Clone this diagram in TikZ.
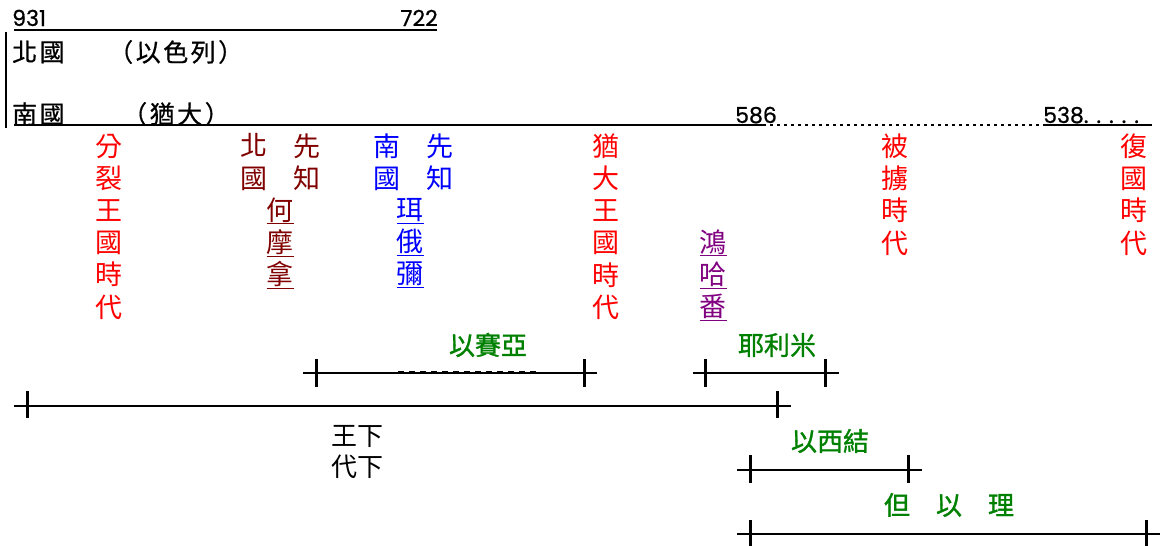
\documentclass[tikz,border=0pt]{standalone}
\usepackage{fontspec}
\setmainfont{Noto Sans CJK TC}
\newfontfamily\numfont[FakeBold=0.8]{Poppins}
\newfontfamily\widecjk[LetterSpace=10,FakeBold=0.6]{Noto Sans CJK TC}
\newfontfamily\semicjk[FakeBold=1.2]{Noto Sans CJK TC}
\definecolor{kred}{HTML}{FF0000}
\definecolor{kdred}{HTML}{800000}
\definecolor{kblue}{HTML}{0000FF}
\definecolor{kpurple}{HTML}{800080}
\definecolor{kgreen}{HTML}{008000}
\newcommand\ulc[1]{\underline{#1}}
\tikzset{
  vcol/.style={align=center, inner sep=0pt, font=\fontsize{27}{32.2}\selectfont},
  num/.style={inner sep=0pt, font=\numfont\fontsize{22}{26}\selectfont},
  hlab/.style={inner sep=0pt, anchor=west, font=\widecjk\fontsize{25}{28}\selectfont},
  glab/.style={inner sep=0pt, text=kgreen, font=\semicjk\fontsize{26}{31}\selectfont},
  bar/.style={line width=2pt},
  tickmark/.style={line width=3pt},
}
\begin{document}
\begin{tikzpicture}[x=1pt,y=-1pt]
\useasboundingbox (0,0) rectangle (1160,546);
% top timeline
\node[num, anchor=base west] (n931) at (12,26) {931};
\node[num, anchor=base east] (n722) at (438,26) {722};
\coordinate (t1) at (14,30);
\coordinate (t2) at (437,30);
\draw[bar] (t1) -- (t2);
\coordinate (v1) at (6,32);
\coordinate (v2) at (6,128);
\draw[bar] (v1) -- (v2);
\node[hlab] (north) at (12,52) {北國};
\node[hlab] (israel) at (108,52) {（以色列）};
\node[hlab] (south) at (12,114) {南國};
\node[hlab] (judah) at (122,114) {（猶大）};
% main line
\coordinate (m1) at (14,125);
\coordinate (m2) at (763,125);
\coordinate (m3) at (1045,125);
\coordinate (m4) at (1152,125);
\draw[bar] (m1) -- (m2);
\draw[line width=1.8pt, dash pattern=on 3pt off 4pt] (m2) -- (m3);
\draw[bar] (m3) -- (m4);
\node[num, anchor=base west] (n586) at (735,123) {586};
\node[num, anchor=base west] (n538) at (1043,123) {538.\hspace{8pt}.\hspace{8pt}.\hspace{8pt}.\hspace{8pt}.};
% vertical columns
\node[vcol, text=kred] (c1) at (109,226.5) {分\\裂\\王\\國\\時\\代};
\node[vcol, text=kdred] (c2a) at (254,162) {北\\國};
\node[vcol, text=kdred] (c2b) at (307,162) {先\\知};
\node[vcol, text=kdred] (c2c) at (280,243) {\ulc{何}\\\ulc{摩}\\\ulc{拿}};
\node[vcol, text=kblue] (c3a) at (387,162) {南\\國};
\node[vcol, text=kblue] (c3b) at (440,162) {先\\知};
\node[vcol, text=kblue] (c3c) at (410,243) {\ulc{珥}\\\ulc{俄}\\\ulc{彌}};
\node[vcol, text=kred] (c4) at (606,226.5) {猶\\大\\王\\國\\時\\代};
\node[vcol, text=kpurple] (c5) at (713,275) {\ulc{鴻}\\\ulc{哈}\\\ulc{番}};
\node[vcol, text=kred] (c6) at (895,194.5) {被\\擄\\時\\代};
\node[vcol, text=kred] (c7) at (1134,194.5) {復\\國\\時\\代};
% Isaiah
\node[glab] (isa) at (488,345) {以賽亞};
\coordinate (isaL) at (303,373);
\coordinate (isaR) at (597,373);
\draw[bar] (isaL) -- (isaR);
\coordinate (isaD1) at (398,371.8);
\coordinate (isaD2) at (538,371.8);
\draw[line width=1.6pt, dash pattern=on 6pt off 5pt] (isaD1) -- (isaD2);
\draw[tickmark] (316,359) -- (316,387);
\draw[tickmark] (584,359) -- (584,387);
% Jeremiah
\node[glab] (jer) at (777,345) {耶利米};
\coordinate (jerL) at (693,373);
\coordinate (jerR) at (839,373);
\draw[bar] (jerL) -- (jerR);
\draw[tickmark] (705,359) -- (705,387);
\draw[tickmark] (825,359) -- (825,387);
% Kings / Chronicles
\coordinate (kL) at (14,406);
\coordinate (kR) at (791,406);
\draw[bar] (kL) -- (kR);
\draw[tickmark] (27,391) -- (27,418);
\draw[tickmark] (777,391) -- (777,418);
\node[align=center, inner sep=0pt, font=\fontsize{26}{31}\selectfont] (kings) at (357,452.5) {王下\\代下};
% Ezekiel
\node[glab] (eze) at (830,441) {以西結};
\coordinate (ezL) at (737,470);
\coordinate (ezR) at (922,470);
\draw[bar] (ezL) -- (ezR);
\draw[tickmark] (750,455) -- (750,483);
\draw[tickmark] (908,455) -- (908,483);
% Daniel
\node[glab] (dan) at (949,505) {但　以　理};
\coordinate (daL) at (737,534);
\coordinate (daR) at (1160,534);
\draw[bar] (daL) -- (daR);
\draw[tickmark] (750,520) -- (750,546);
\draw[tickmark] (1146,520) -- (1146,546);
\end{tikzpicture}
\end{document}
